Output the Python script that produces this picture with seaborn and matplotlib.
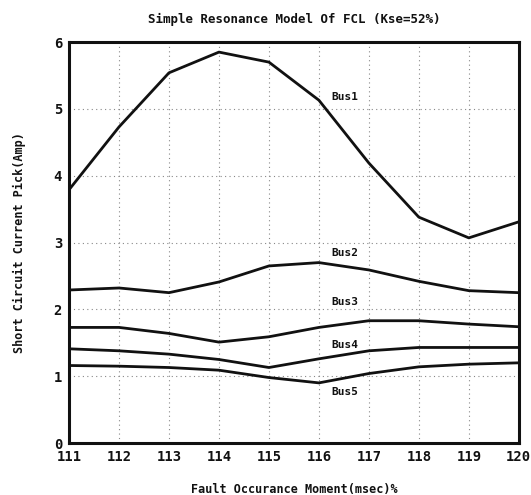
import numpy as np
import pandas as pd
import matplotlib
matplotlib.use("Agg")
import matplotlib.pyplot as plt
import seaborn as sns

moments = [111, 112, 113, 114, 115, 116, 117, 118, 119, 120]
bus1 = [3.79, 4.73, 5.54, 5.85, 5.70, 5.13, 4.19, 3.38, 3.07, 3.31]
bus2 = [2.29, 2.32, 2.25, 2.41, 2.65, 2.70, 2.59, 2.42, 2.28, 2.25]
bus3 = [1.73, 1.73, 1.64, 1.51, 1.59, 1.73, 1.83, 1.83, 1.78, 1.74]
bus4 = [1.41, 1.38, 1.33, 1.25, 1.13, 1.26, 1.38, 1.43, 1.43, 1.43]
bus5 = [1.16, 1.15, 1.13, 1.09, 0.98, 0.90, 1.04, 1.14, 1.18, 1.20]
bus_names = ["Bus1", "Bus2", "Bus3", "Bus4", "Bus5"]
label_pos = {"Bus1": (116.25, 5.18), "Bus2": (116.25, 2.84), "Bus3": (116.25, 2.11),
             "Bus4": (116.25, 1.47), "Bus5": (116.25, 0.76)}
yticks = [0, 1, 2, 3, 4, 5, 6]

series = [bus1, bus2, bus3, bus4, bus5]
df = pd.concat([pd.DataFrame({"moment": moments, "current": s, "bus": n})
                for n, s in zip(bus_names, series)], ignore_index=True)

sns.set_style("white")
fig = plt.figure(figsize=(5.31, 4.95), dpi=100)
ax = fig.add_axes([0.130, 0.105, 0.847, 0.810])

sns.lineplot(data=df, x="moment", y="current", hue="bus",
             palette=["#111111"] * 5, linewidth=2.0, legend=False, ax=ax)

ax.set_xlim(111, 120)
ax.set_ylim(0, 6)
ax.set_xticks(moments)
ax.set_yticks(yticks)
ax.grid(True, color="#888888", linestyle=(0, (1, 3)), linewidth=0.8)
for s in ax.spines.values():
    s.set_linewidth(2.2)
    s.set_color("#111111")
ax.tick_params(length=0, pad=5)
for lab in ax.get_xticklabels() + ax.get_yticklabels():
    lab.set_fontfamily("DejaVu Sans Mono")
    lab.set_fontweight("bold")
    lab.set_fontsize(10)
    lab.set_color("#111111")

for n in bus_names:
    x, y = label_pos[n]
    ax.text(x, y, n, fontsize=8, fontweight="bold", family="DejaVu Sans Mono",
            color="#111111", va="center", ha="left")

ax.set_title("Simple Resonance Model Of FCL (Kse=52%)", fontsize=9, fontweight="bold",
             family="DejaVu Sans Mono", pad=14, color="#111111")
ax.set_xlabel("Fault Occurance Moment(msec)%", fontsize=8.5, fontweight="bold",
              family="DejaVu Sans Mono", labelpad=14, color="#111111")
ax.set_ylabel("Short Circuit Current Pick(Amp)", fontsize=8.5, fontweight="bold",
              family="DejaVu Sans Mono", labelpad=20, color="#111111")

fig.savefig("out.png", dpi=100)
